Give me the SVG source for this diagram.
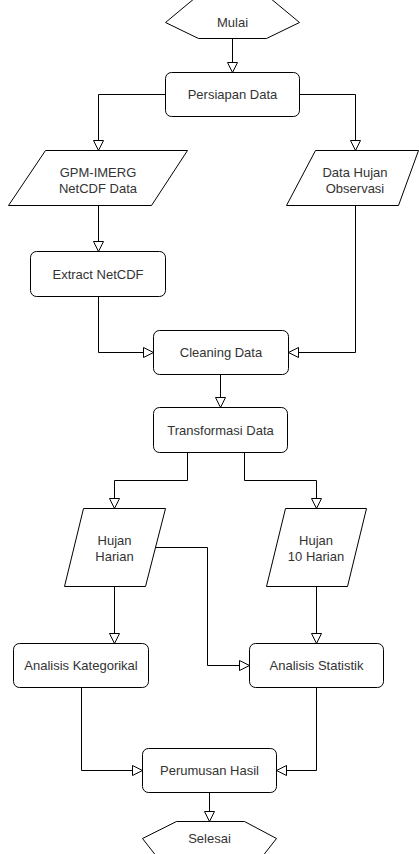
<svg xmlns="http://www.w3.org/2000/svg" width="419" height="854" viewBox="0 0 419 854">
<style>
.shape{fill:#ffffff;stroke:#000000;stroke-width:1}
.lbl{font-family:"Liberation Sans",Arial,sans-serif;font-size:13px;fill:#333333;text-anchor:middle;dominant-baseline:central}
.conn{fill:none;stroke:#000000;stroke-width:1;marker-end:url(#arr)}
</style>
<defs>
<marker id="arr" viewBox="0 0 12 12" refX="11" refY="6" markerWidth="12" markerHeight="12" markerUnits="userSpaceOnUse" orient="auto">
<path d="M1,1 L11,6 L1,11 Z" fill="#ffffff" stroke="#000000" stroke-width="1"/>
</marker>
</defs>
<rect width="419" height="854" fill="#ffffff"/>
<g id="connectors">
<path class="conn" d="M232.5,38.5 V72.5"/>
<path class="conn" d="M165.5,94.5 H98.5 V150.5"/>
<path class="conn" d="M299.5,94.5 H355.5 V150.5"/>
<path class="conn" d="M98.5,205.5 V251.5"/>
<path class="conn" d="M98.5,296.5 V352.5 H153.5"/>
<path class="conn" d="M355.5,205.5 V352.5 H288.5"/>
<path class="conn" d="M220.5,374.5 V407.5"/>
<path class="conn" d="M187.5,452.5 V480.5 H114.5 V508.5"/>
<path class="conn" d="M244.5,452.5 V480.5 H316.5 V508.5"/>
<path class="conn" d="M114.5,586.5 V643.5"/>
<path class="conn" d="M155.5,547.5 H207.5 V665.5 H249.5"/>
<path class="conn" d="M316.5,586.5 V643.5"/>
<path class="conn" d="M81.5,687.5 V770.5 H142.5"/>
<path class="conn" d="M316.5,687.5 V770.5 H276.5"/>
<path class="conn" d="M209.5,792.5 V821.5"/>
</g>
<g id="mulai">
<polygon class="shape" points="165.5,22.5 195,-2 270,-2 299.5,22.5 266.5,38.5 198.5,38.5"/>
<text class="lbl" x="232.5" y="22">Mulai</text>
</g>
<g id="persiapan">
<rect class="shape" x="165.5" y="72.5" width="134" height="44" rx="6"/>
<text class="lbl" x="232.5" y="94.5">Persiapan Data</text>
</g>
<g id="gpm">
<polygon class="shape" points="45.5,150.5 187.5,150.5 151.5,205.5 8.5,205.5"/>
<text class="lbl" x="98" y="172">GPM-IMERG</text>
<text class="lbl" x="98" y="188">NetCDF Data</text>
</g>
<g id="observasi">
<polygon class="shape" points="315.5,150.5 418.5,150.5 398.5,205.5 286.5,205.5"/>
<text class="lbl" x="355" y="172">Data Hujan</text>
<text class="lbl" x="355" y="188">Observasi</text>
</g>
<g id="extract">
<rect class="shape" x="30.5" y="251.5" width="135" height="45" rx="6"/>
<text class="lbl" x="98" y="274">Extract NetCDF</text>
</g>
<g id="cleaning">
<rect class="shape" x="153.5" y="330.5" width="135" height="44" rx="6"/>
<text class="lbl" x="221" y="352.5">Cleaning Data</text>
</g>
<g id="transformasi">
<rect class="shape" x="153.5" y="407.5" width="134" height="45" rx="6"/>
<text class="lbl" x="220.5" y="430">Transformasi Data</text>
</g>
<g id="hujan-harian">
<polygon class="shape" points="83.5,508.5 165.5,508.5 145.5,586.5 64.5,586.5"/>
<text class="lbl" x="114.5" y="540.5">Hujan</text>
<text class="lbl" x="114.5" y="556">Harian</text>
</g>
<g id="hujan-10">
<polygon class="shape" points="285.5,508.5 366.5,508.5 347.5,586.5 266.5,586.5"/>
<text class="lbl" x="316" y="540.5">Hujan</text>
<text class="lbl" x="316" y="556">10 Harian</text>
</g>
<g id="kategorikal">
<rect class="shape" x="13.5" y="643.5" width="135" height="44" rx="6"/>
<text class="lbl" x="81" y="665.5">Analisis Kategorikal</text>
</g>
<g id="statistik">
<rect class="shape" x="249.5" y="643.5" width="134" height="44" rx="6"/>
<text class="lbl" x="316.5" y="665.5">Analisis Statistik</text>
</g>
<g id="perumusan">
<rect class="shape" x="142.5" y="748.5" width="134" height="44" rx="6"/>
<text class="lbl" x="209.5" y="770.5">Perumusan Hasil</text>
</g>
<g id="selesai">
<polygon class="shape" points="142.5,838.5 176.5,821.5 244.5,821.5 276.5,838.5 262,857 157,857"/>
<text class="lbl" x="209.5" y="838.5">Selesai</text>
</g>
</svg>
